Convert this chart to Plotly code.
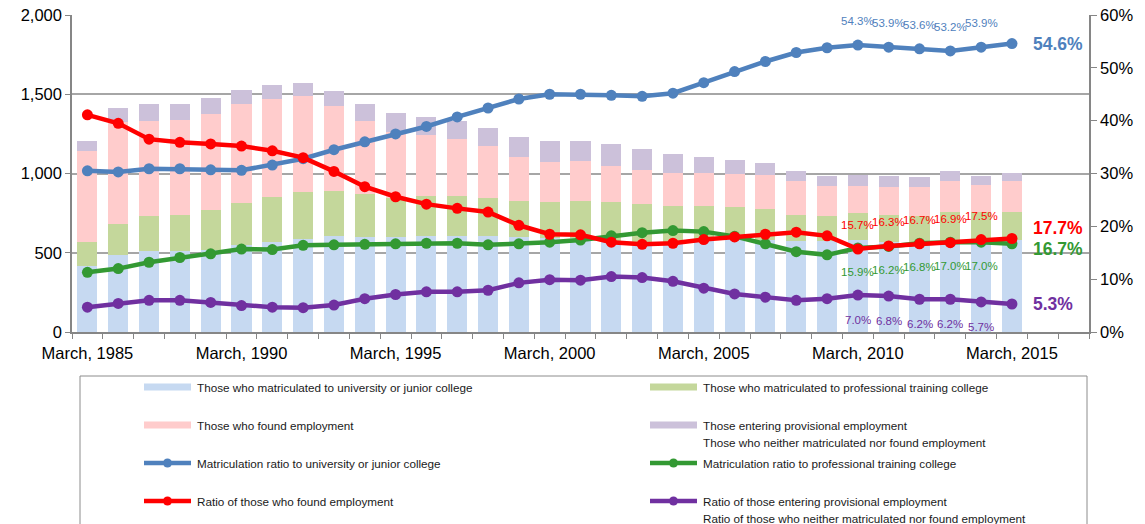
import plotly.graph_objects as go

# ---------------- data (thousand persons / %) ----------------
years = list(range(1985, 2016))

univ = [418, 487, 508, 512, 519, 546, 567, 586, 603, 598, 600, 605, 607, 607, 601, 593,
        590, 567, 561, 565, 575, 585, 582, 575, 575, 582, 571, 565, 578, 565, 582]
prof = [153, 196, 221, 228, 252, 267, 282, 297, 288, 274, 245, 256, 254, 238, 227, 230,
        238, 256, 248, 227, 217, 201, 195, 165, 154, 168, 169, 170, 182, 192, 178]
employed = [568, 641, 605, 599, 605, 626, 622, 603, 538, 460, 420, 383, 356, 330, 275, 249,
            248, 226, 214, 210, 210, 212, 215, 210, 193, 172, 174, 179, 190, 172, 190]
provisional = [67, 88, 103, 100, 99, 89, 88, 84, 92, 106, 116, 112, 115, 111, 126, 134,
               126, 138, 133, 120, 101, 88, 77, 67, 65, 70, 71, 67, 67, 58, 56]

univ_ratio = [30.5, 30.3, 30.9, 30.9, 30.7, 30.6, 31.6, 32.8, 34.5, 36.0, 37.5, 38.9, 40.7, 42.4, 44.1, 45.0,
              45.0, 44.8, 44.6, 45.2, 47.2, 49.3, 51.2, 52.9, 53.8, 54.3, 53.9, 53.6, 53.2, 53.9, 54.6]
prof_ratio = [11.3, 12.0, 13.2, 14.1, 14.8, 15.7, 15.6, 16.4, 16.5, 16.6, 16.7, 16.8, 16.8, 16.5, 16.7, 17.0,
              17.4, 18.2, 18.8, 19.2, 19.0, 18.1, 16.7, 15.2, 14.6, 15.9, 16.2, 16.8, 17.0, 17.0, 16.7]
emp_ratio = [41.1, 39.5, 36.5, 35.9, 35.6, 35.2, 34.3, 33.0, 30.4, 27.5, 25.6, 24.2, 23.4, 22.7, 20.2, 18.5,
             18.4, 17.0, 16.6, 16.8, 17.5, 18.0, 18.5, 18.9, 18.2, 15.7, 16.3, 16.7, 16.9, 17.5, 17.7]
prov_ratio = [4.7, 5.4, 6.0, 6.0, 5.6, 5.0, 4.7, 4.6, 5.1, 6.3, 7.1, 7.6, 7.6, 7.9, 9.3, 9.9,
              9.8, 10.5, 10.3, 9.6, 8.3, 7.2, 6.6, 6.0, 6.3, 7.0, 6.8, 6.2, 6.2, 5.7, 5.3]

labeled_years = [2010, 2011, 2012, 2013, 2014]
tick_years = [1985, 1990, 1995, 2000, 2005, 2010, 2015]
tick_labels = ["March, %d" % y for y in tick_years]
count_ticks = [0, 500, 1000, 1500, 2000]
pct_ticks = [0, 10, 20, 30, 40, 50, 60]
pct_labels = ["%d%%" % v for v in pct_ticks]

bar_names = ["Those who matriculated to university or junior college",
             "Those who matriculated to professional training college",
             "Those who found employment",
             "Those entering provisional employment<br>Those who neither matriculated nor found employment"]
line_names = ["Matriculation ratio to university or junior college",
              "Matriculation ratio to professional training college",
              "Ratio of those who found employment",
              "Ratio of those entering provisional employment<br>Ratio of those who neither matriculated nor found employment"]

# ---------------- styles ----------------
BAR_COLORS = ["#C6D9F1", "#C4D79B", "#FFCCCC", "#CCC1DA"]
LINE_COLORS = ["#4F81BD", "#339933", "#FF0000", "#7030A0"]
FONT = "Liberation Sans, Arial, sans-serif"
AXC = "#868686"

W, H = 1145, 524
L, R, T, B = 72, 1089, 15, 332


def px(x):
    return (x - L) / (R - L)


def py(y):
    return (B - y) / (B - T)


fig = go.Figure()

for vals, name, col in zip([univ, prof, employed, provisional], bar_names, BAR_COLORS):
    fig.add_trace(go.Bar(x=years, y=vals, name=name, marker=dict(color=col, line=dict(width=0)),
                         showlegend=False))

for vals, name, col in zip([univ_ratio, prof_ratio, emp_ratio, prov_ratio], line_names, LINE_COLORS):
    fig.add_trace(go.Scatter(x=years, y=vals, name=name, yaxis="y2", mode="lines+markers",
                             line=dict(color=col, width=4.5), marker=dict(color=col, size=11),
                             showlegend=False))

annotations = []
# value labels 2010-2014
for vals, col, shift in [(univ_ratio, LINE_COLORS[0], 24), (emp_ratio, LINE_COLORS[2], 24),
                         (prof_ratio, LINE_COLORS[1], -24), (prov_ratio, LINE_COLORS[3], -25)]:
    for yr in labeled_years:
        v = vals[years.index(yr)]
        annotations.append(dict(x=yr, y=v, xref="x", yref="y2", text="%.1f%%" % v, showarrow=False,
                                yshift=shift, font=dict(family=FONT, size=11.5, color=col)))
# final-year labels
for vals, col, shift in [(univ_ratio, LINE_COLORS[0], 0), (emp_ratio, LINE_COLORS[2], 10),
                         (prof_ratio, LINE_COLORS[1], -5), (prov_ratio, LINE_COLORS[3], 0)]:
    v = vals[-1]
    annotations.append(dict(x=years[-1], y=v, xref="x", yref="y2", text="<b>%.1f%%</b>" % v,
                            showarrow=False, xanchor="left", xshift=19, yshift=shift,
                            font=dict(family=FONT, size=17.5, color=col)))

# ---------------- manual legend ----------------
shapes = [dict(type="rect", xref="paper", yref="paper", x0=px(80), x1=px(1087), y0=py(376), y1=py(560),
               line=dict(color="#8c8c8c", width=1), fillcolor="rgba(0,0,0,0)")]
rows_y = [387, 425, 463, 501]
cols = [(144, 191, 195), (650, 697, 701)]
entries = [("bar", 0, 0, 0), ("bar", 1, 0, 1), ("bar", 2, 1, 0), ("bar", 3, 1, 1),
           ("line", 0, 2, 0), ("line", 1, 2, 1), ("line", 2, 3, 0), ("line", 3, 3, 1)]
for kind, idx, r, c in entries:
    x0, x1, tx = cols[c]
    yy = rows_y[r]
    if kind == "bar":
        shapes.append(dict(type="rect", xref="paper", yref="paper", x0=px(x0), x1=px(x1),
                           y0=py(yy + 3.5), y1=py(yy - 3.5), fillcolor=BAR_COLORS[idx], line=dict(width=0)))
        label = bar_names[idx]
    else:
        shapes.append(dict(type="line", xref="paper", yref="paper", x0=px(x0), x1=px(x1),
                           y0=py(yy), y1=py(yy), line=dict(color=LINE_COLORS[idx], width=4.5)))
        shapes.append(dict(type="circle", xref="paper", yref="paper", xsizemode="pixel", ysizemode="pixel",
                           xanchor=px((x0 + x1) / 2), yanchor=py(yy), x0=-4.5, x1=4.5, y0=-4.5, y1=4.5,
                           fillcolor=LINE_COLORS[idx], line=dict(width=0)))
        label = line_names[idx]
    parts = label.split("<br>")
    for k, part in enumerate(parts):
        annotations.append(dict(x=px(tx), y=py(yy + k * 17.5), xref="paper", yref="paper", text=part,
                                showarrow=False, xanchor="left", yanchor="middle",
                                font=dict(family=FONT, size=11.7, color="#1a1a1a")))

fig.update_layout(
    width=W, height=H,
    margin=dict(l=L, r=W - R, t=T, b=H - B, pad=0, autoexpand=False),
    paper_bgcolor="white", plot_bgcolor="white",
    barmode="stack", bargap=0.35,
    font=dict(family=FONT, size=16.5, color="#000000"),
    showlegend=False,
    xaxis=dict(range=[1984.5, 2017.5], tickmode="array", tickvals=tick_years, ticktext=tick_labels,
               ticks="outside", ticklen=5, tickcolor="rgba(0,0,0,0)", showline=True, linecolor=AXC,
               linewidth=1.5, showgrid=False, zeroline=False, automargin=False,
               minor=dict(ticks="outside", tick0=1984.5, dtick=1, ticklen=5, tickcolor=AXC,
                          tickwidth=1.2, showgrid=False),
               tickfont=dict(size=16.5)),
    yaxis=dict(range=[0, 2000], tickmode="array", tickvals=count_ticks, tickformat=",",
               showgrid=True, gridcolor="#a6a6a6", gridwidth=1.5, showline=True, linecolor=AXC,
               linewidth=1.5, ticks="outside", ticklen=5, tickcolor=AXC, zeroline=False,
               automargin=False, tickfont=dict(size=16.5)),
    yaxis2=dict(range=[0, 60], tickmode="array", tickvals=pct_ticks, ticktext=pct_labels,
                overlaying="y", side="right", showgrid=False, showline=True, linecolor=AXC,
                linewidth=1.5, ticks="outside", ticklen=6, tickcolor=AXC, zeroline=False,
                automargin=False, tickfont=dict(size=16.5)),
    shapes=shapes,
    annotations=annotations,
)

fig.write_html("out.html")
